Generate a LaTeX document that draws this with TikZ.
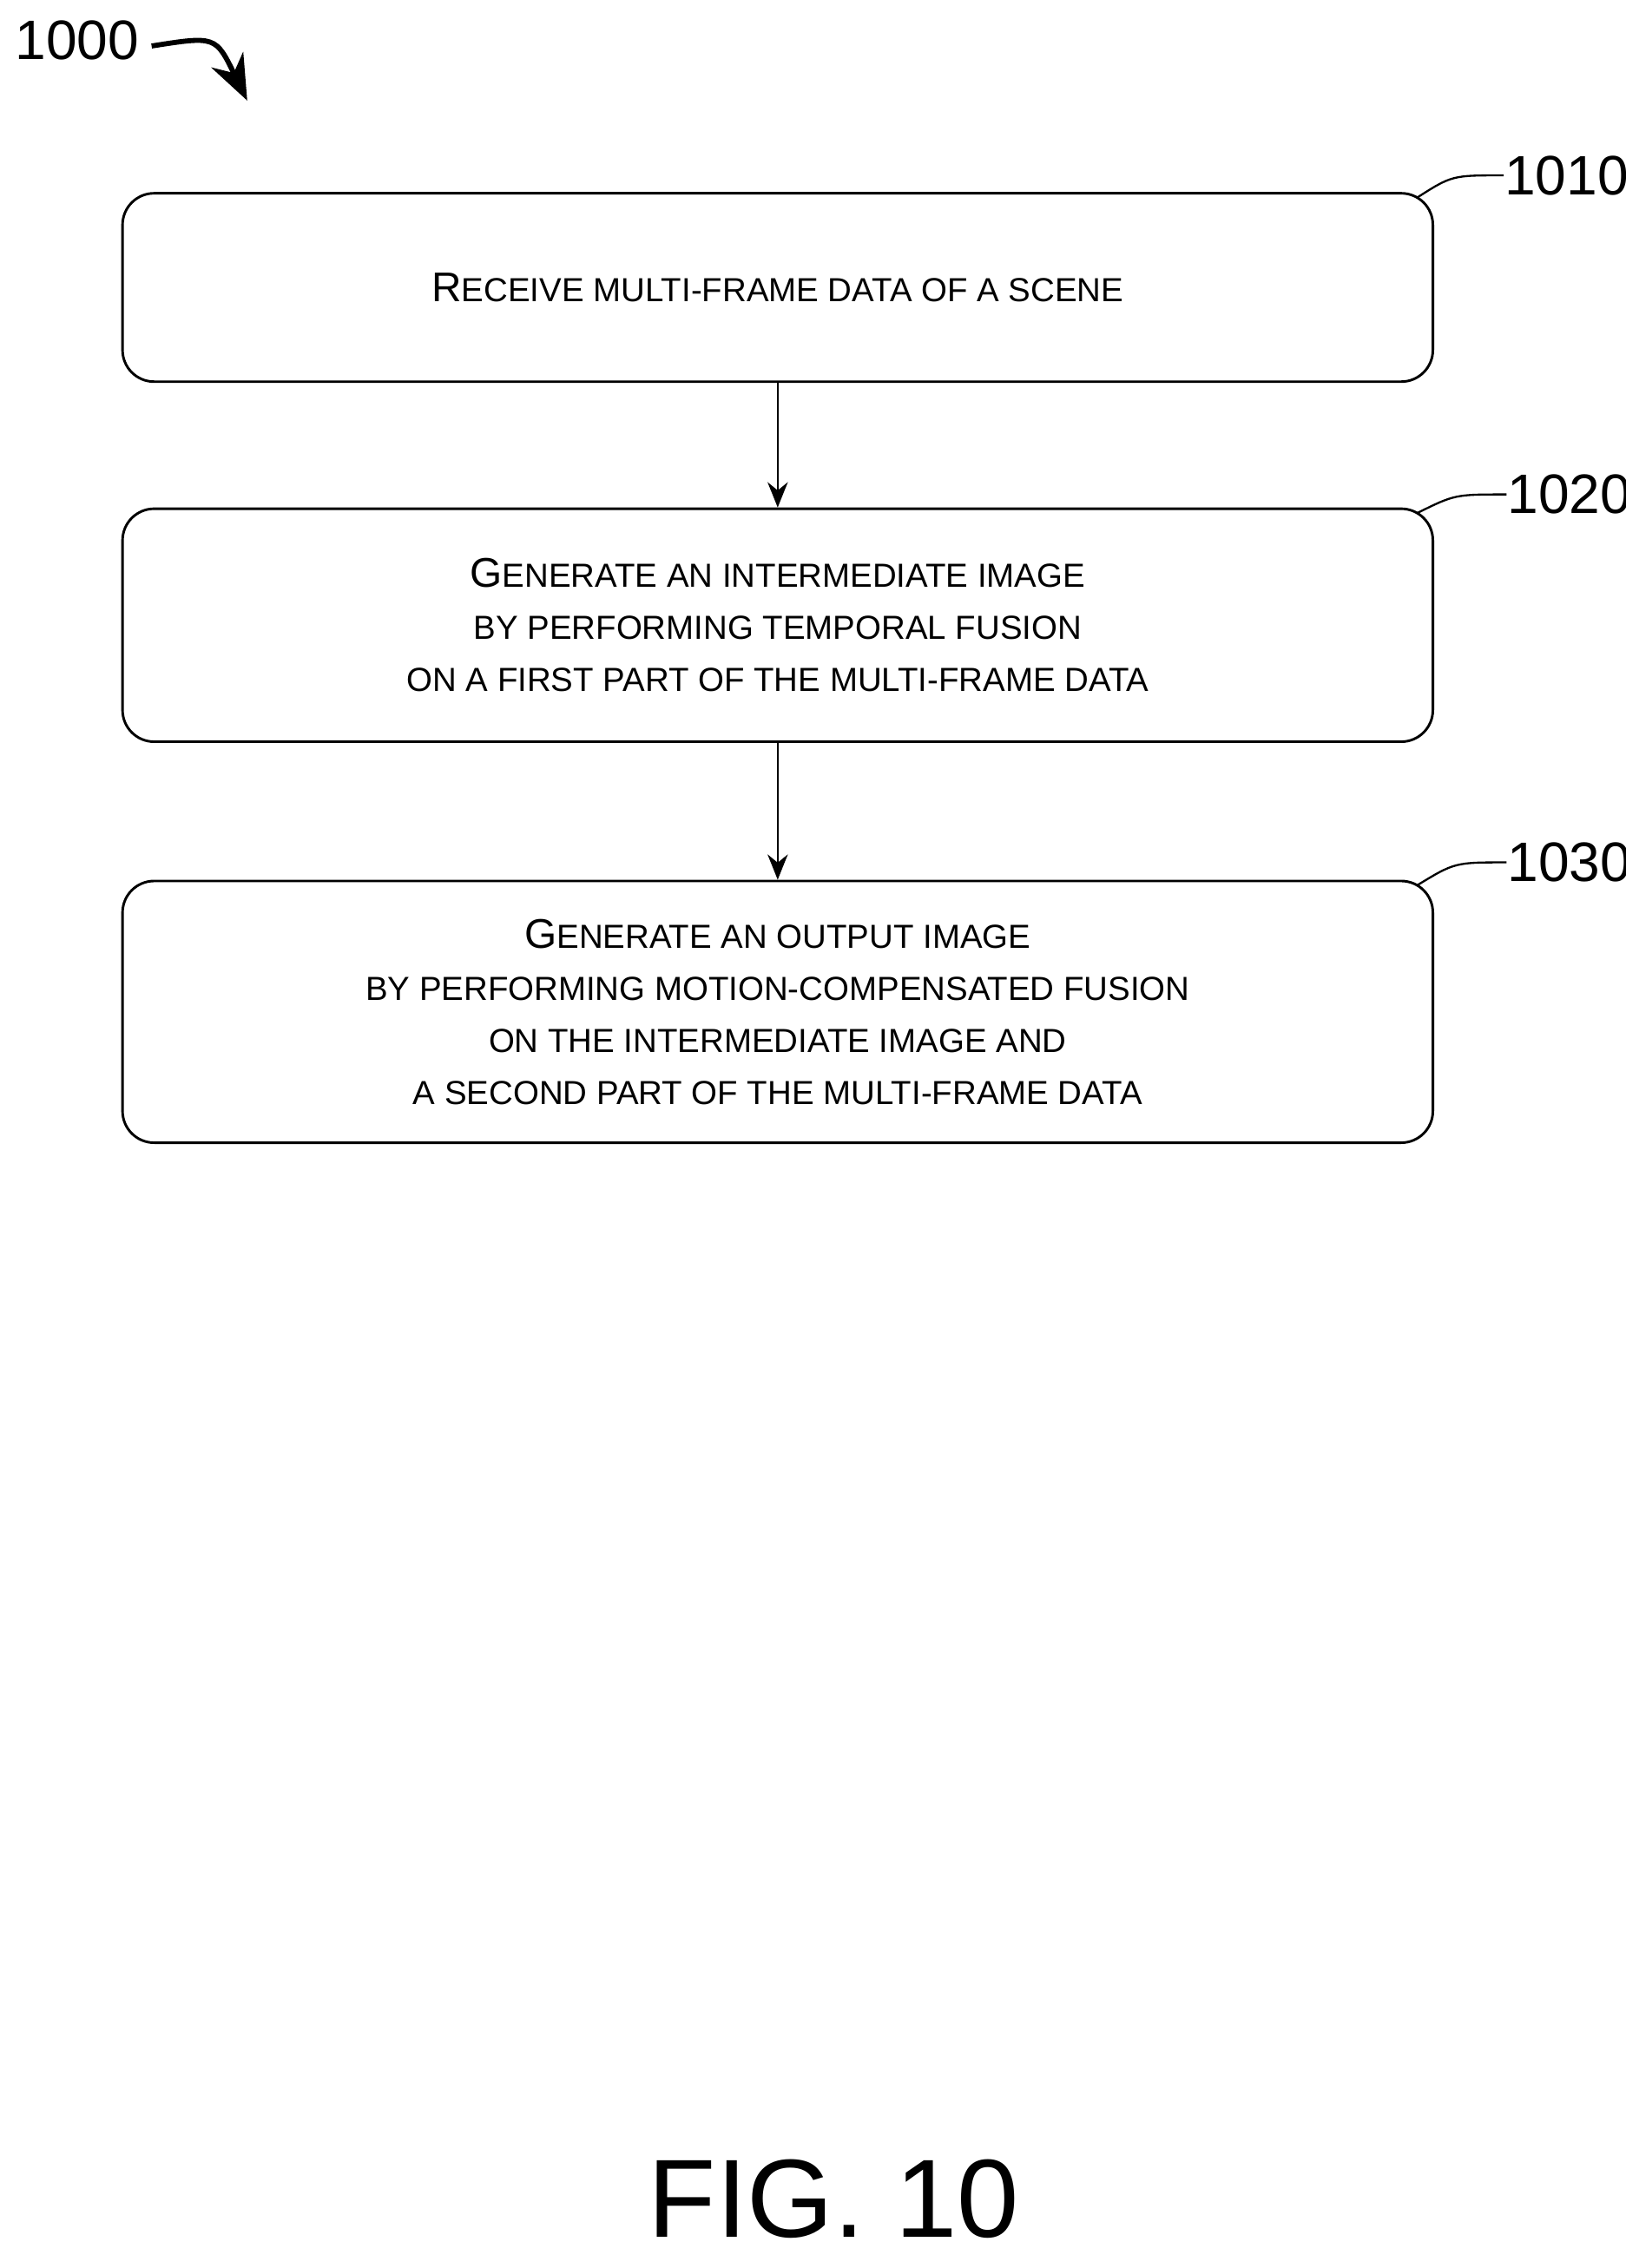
\documentclass[tikz,border=0pt]{standalone}
\usepackage{fontspec}
\setmainfont{Liberation Sans}
\usetikzlibrary{arrows.meta}
\newcommand\lc[1]{{\fontsize{6.6}{8}\selectfont\MakeUppercase{#1}}}
\tikzset{
  stepbox/.style={draw, rounded corners=0.22cm, minimum width=9.11cm, align=center,
    font=\fontsize{8.2}{10.3}\selectfont, line width=0.5pt},
  ref/.style={font=\fontsize{11}{13}\selectfont, anchor=west, inner sep=0pt},
  flow/.style={-{Stealth[length=5pt,width=4pt]}, line width=0.4pt}
}
\begin{document}
\begin{tikzpicture}[x=0.01cm,y=-0.01cm]
    \useasboundingbox (0,0) rectangle (1131,1578);

    \node[stepbox, minimum height=1.31cm] (recv) at (541,200)
      {R\lc{eceive multi-frame data of a scene}};
    \node[stepbox, minimum height=1.62cm] (temp) at (541,435)
      {G\lc{enerate an intermediate image}\\ \lc{by performing temporal fusion}\\ \lc{on a first part of the multi-frame data}};
    \node[stepbox, minimum height=1.82cm] (mcf) at (541,704)
      {G\lc{enerate an output image}\\ \lc{by performing motion-compensated fusion}\\ \lc{on the intermediate image and}\\ \lc{a second part of the multi-frame data}};

    \draw[flow] (recv) -- (temp);
    \draw[flow] (temp) -- (mcf);

    % reference numerals
    \node[ref] (n1010) at (1046,122) {1010};
    \node[ref] (n1020) at (1048,344) {1020};
    \node[ref] (n1030) at (1048,600) {1030};
    \draw (recv.north east) ++(-12,4) .. controls (1010,122) .. (n1010.west);
    \draw (temp.north east) ++(-12,4) .. controls (1012,344) .. (n1020.west);
    \draw (mcf.north east) ++(-12,4) .. controls (1012,600) .. (n1030.west);

    \node[ref] (n1000) at (10,28) {1000};
    \draw[-{Stealth[length=9pt,width=7pt]}, line width=1pt] (n1000.east) ++(8,4)
      .. controls (150,25) .. (172,70);

    \node[font=\fontsize{22}{26}\selectfont] (fig) at (580,1530) {FIG. 10};
\end{tikzpicture}
\end{document}
